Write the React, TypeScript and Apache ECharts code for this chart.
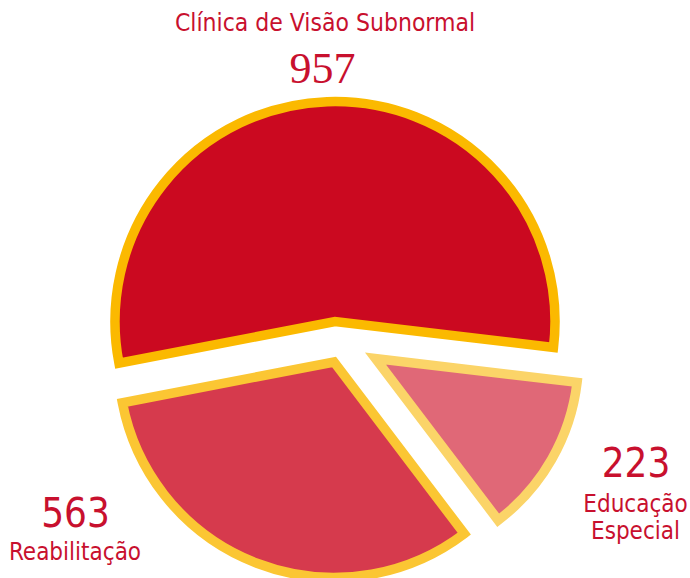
import React, { useEffect, useRef } from "react";
import * as echarts from "echarts";

const categories = ["Clínica de Visão Subnormal", "Educação Especial", "Reabilitação"];
const values = [957, 223, 563];

const fills = ["#CB0920", "#E06877", "#D63A4D"];
const borders = ["#FBB900", "#FBD468", "#FBC633"];
const centers: [number, number][] = [[335, 321.5], [375.5, 358.5], [334, 362]];
const radii = [220, 203, 215.5];

const RED = "#C8102E";
const LABEL_FONT = "'Liberation Sans Narrow', 'DejaVu Sans Condensed', Lato, sans-serif";

export default function App() {
  const ref = useRef<HTMLDivElement>(null);
  useEffect(() => {
    if (!ref.current) return;
    const chart = echarts.init(ref.current, undefined, { renderer: "svg" });
    const series = values.map((_, i) => ({
      type: "pie",
      center: centers[i],
      radius: radii[i],
      startAngle: 190.9,
      clockwise: true,
      silent: true,
      avoidLabelOverlap: false,
      label: { show: false },
      labelLine: { show: false },
      emphasis: { disabled: true },
      data: values.map((v, j) => ({
        value: v,
        name: categories[j],
        itemStyle:
          j === i
            ? { color: fills[i], borderColor: borders[i], borderWidth: 9.5, borderJoin: "miter", borderMiterLimit: 10 }
            : { color: "rgba(0,0,0,0)", borderWidth: 0 },
      })),
    }));
    const eduLines = categories[1].split(" ").join("\n");
    chart.setOption({
      animation: false,
      backgroundColor: "#ffffff",
      series,
      graphic: [
        { type: "text", x: 325, y: 22.5, style: { text: categories[0], fill: RED, font: `24.5px ${LABEL_FONT}`, align: "center", verticalAlign: "middle" } },
        { type: "text", x: 322.5, y: 68, style: { text: String(values[0]), fill: RED, font: `44px 'Liberation Serif', serif`, align: "center", verticalAlign: "middle" } },
        { type: "text", x: 75.5, y: 513, style: { text: String(values[2]), fill: RED, font: `40px ${LABEL_FONT}`, align: "center", verticalAlign: "middle" } },
        { type: "text", x: 75, y: 552, style: { text: categories[2], fill: RED, font: `24px ${LABEL_FONT}`, align: "center", verticalAlign: "middle" } },
        { type: "text", x: 636, y: 463, style: { text: String(values[1]), fill: RED, font: `40px ${LABEL_FONT}`, align: "center", verticalAlign: "middle" } },
        { type: "text", x: 635.5, y: 517, style: { text: eduLines, fill: RED, font: `24px ${LABEL_FONT}`, lineHeight: 27, align: "center", verticalAlign: "middle" } },
      ],
    });
    return () => chart.dispose();
  }, []);
  return <div ref={ref} style={{ position: "absolute", left: 0, top: 0, width: 690, height: 578 }} />;
}
